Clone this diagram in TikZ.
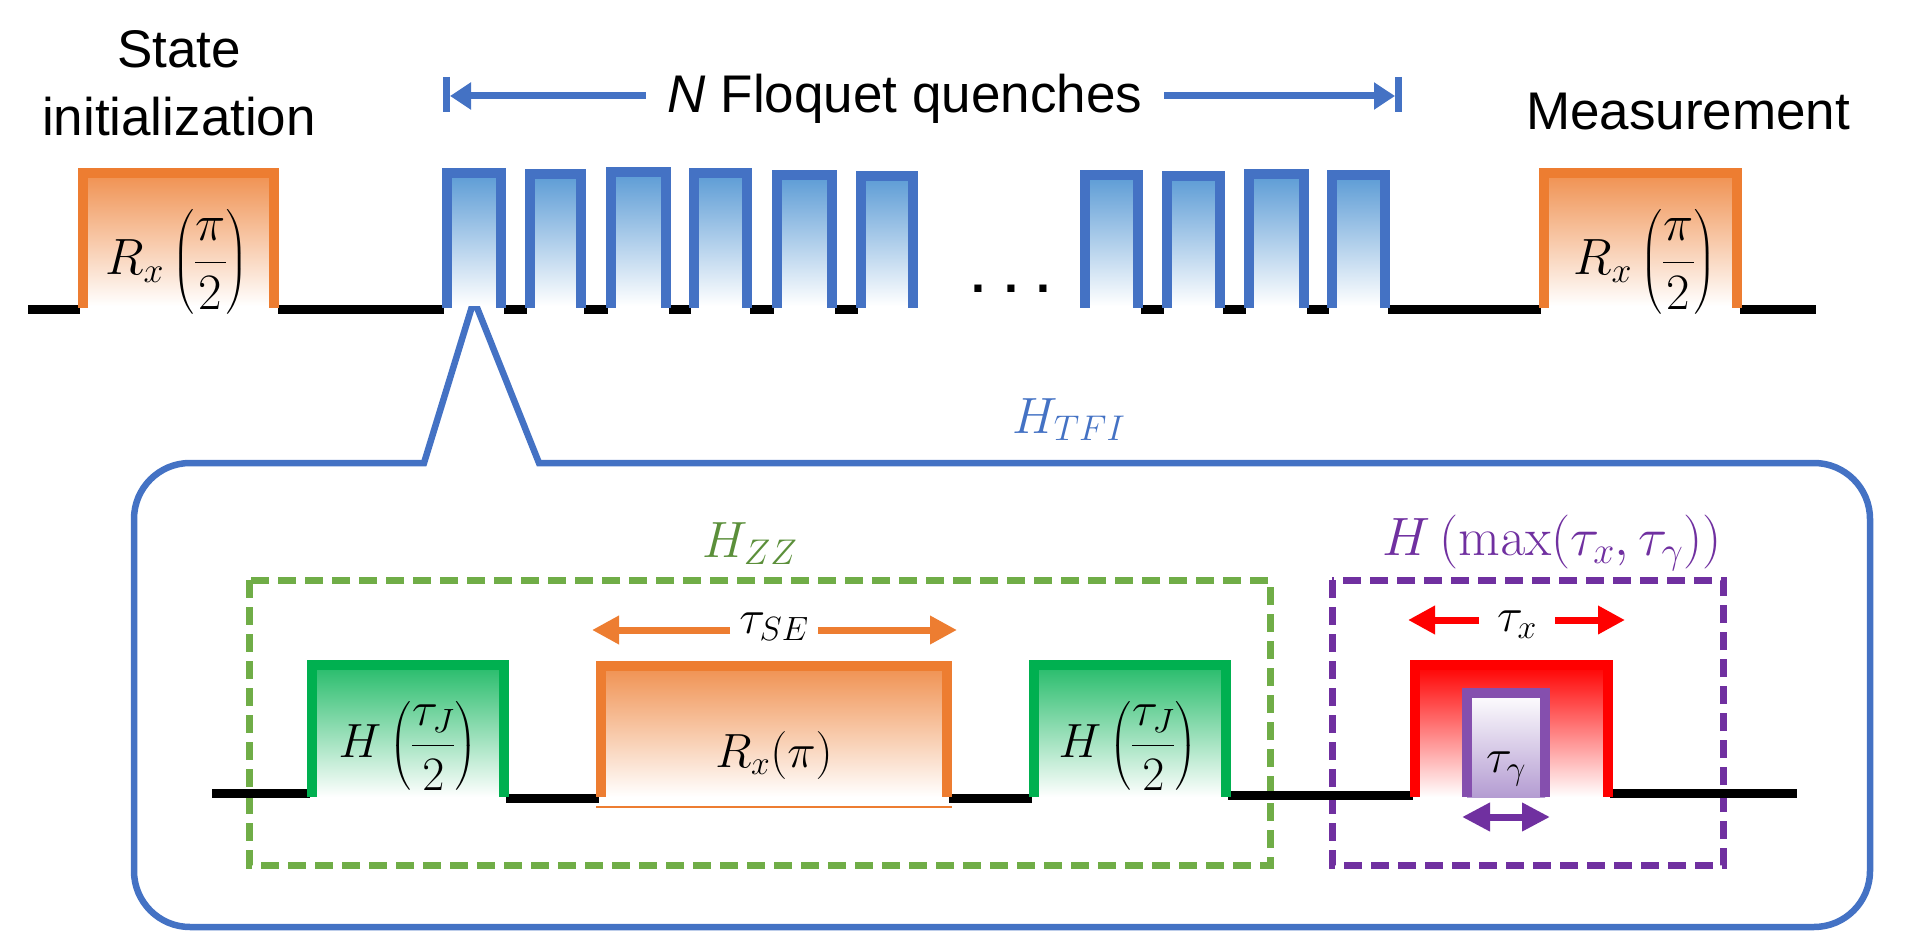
\RequirePackage{fix-cm}
\documentclass[tikz,border=0pt]{standalone}
\usepackage{amsmath}
\usepackage[no-math]{fontspec}
\setmainfont{Liberation Sans}
\usepackage{xcolor}
\definecolor{pulseb}{HTML}{4472C4}
\definecolor{pulsebf}{HTML}{5B9BD5}
\definecolor{rotc}{HTML}{ED7D31}
\definecolor{zzc}{HTML}{00B050}
\definecolor{zzbox}{HTML}{70AD47}
\definecolor{zzlab}{HTML}{5B8F3A}
\definecolor{maxc}{HTML}{7030A0}
\definecolor{maxf}{HTML}{B49CD2}
\definecolor{xc}{HTML}{FF0000}
\usetikzlibrary{arrows.meta}

\begin{document}
\begin{tikzpicture}[x=1pt,y=-1pt,every node/.style={inner sep=0pt}]
\tikzstyle{txt}=[font=\fontsize{53}{68}\selectfont,align=center]
\tikzstyle{mth}=[font=\fontsize{48}{58}\selectfont]
\tikzstyle{mbig}=[font=\fontsize{51}{60}\selectfont]
\tikzstyle{rail}=[line width=9pt,black]
\tikzstyle{wall}=[line width=10pt]
\tikzstyle{dashframe}=[line width=7pt,dash pattern=on 18pt off 9pt]
\tikzstyle{dimarrow}=[line width=7pt,-{Triangle[length=27pt,width=27pt]}]
\tikzstyle{fqarrow}=[line width=7pt,pulseb,-{Triangle[length=21pt,width=26pt]}]
\useasboundingbox (0,0) rectangle (1909,941);

% zoom callout
\draw[pulseb,line width=6.5pt]
  (539,463) -- (1814,463) arc[start angle=-90,end angle=0,radius=56]
  -- (1870,871) arc[start angle=0,end angle=90,radius=56]
  -- (190,927) arc[start angle=90,end angle=180,radius=56]
  -- (134,519) arc[start angle=180,end angle=270,radius=56]
  -- (424,463) -- (474,300) -- cycle;

% dashed frames
\draw[dashframe,zzbox] (249,580) rectangle (1270,865);
\draw[dashframe,maxc] (1332,580) rectangle (1723,865);

% baselines
\foreach \a/\b in {28/80,278/444,504/527,584/608,669/691,750/774,835/858,1141/1164,1223/1246,1307/1329,1388/1541,1740/1816}
  \draw[rail] (\a,310) -- (\b,310);
\foreach \a/\b/\y in {212/310/793,506/599/798,949/1032/798,1228/1413/795,1610/1797/793}
  \draw[rail] (\a,\y) -- (\b,\y);

% top sequence
\foreach \l/\r/\t/\c/\f in {78/279/168/rotc/rotc!85,
  442/506/168/pulseb/pulsebf,525/586/169/pulseb/pulsebf,606/671/167/pulseb/pulsebf,
  689/752/168/pulseb/pulsebf,772/837/170/pulseb/pulsebf,856/918/171/pulseb/pulsebf,
  1080/1143/170/pulseb/pulsebf,1162/1225/171/pulseb/pulsebf,1244/1309/169/pulseb/pulsebf,
  1327/1390/170/pulseb/pulsebf,1539/1742/168/rotc/rotc!85}{
  \shade[top color=\f,bottom color=white] (\l+5,\t+5) rectangle (\r-5,306);
  \draw[wall,\c] (\l+5,308) -- (\l+5,\t+5) -- (\r-5,\t+5) -- (\r-5,308);
}

% one Floquet period
\foreach \l/\r/\t/\c/\f in {307/509/660/zzc/zzc!85,596/952/661/rotc/rotc!85,
  1029/1231/660/zzc/zzc!85,1410/1613/660/xc/xc}{
  \shade[top color=\f,bottom color=white] (\l+5,\t+5) rectangle (\r-5,797);
  \draw[wall,\c] (\l+5,797) -- (\l+5,\t+5) -- (\r-5,\t+5) -- (\r-5,797);
}
\draw[rotc,line width=1.2pt] (596,807) -- (952,807);
\shade[top color=white,bottom color=maxf] (1467,693) rectangle (1545,797);
\draw[wall,maxc!85] (1467,797) -- (1467,693) -- (1545,693) -- (1545,797);

% labels
\node[txt] (init) at (179,83) {State\\initialization};
\node[txt,anchor=base] (meas) at (1688,130) {Measurement};
\node[txt,anchor=base,inner xsep=22pt] (floq) at (905,113) {\textit{N} Floquet quenches};
\node[font=\fontsize{50}{60}\selectfont\bfseries,anchor=base] (dots) at (1011,293) {. . .};
\node[mbig] (rxin) at (177,262) {$R_x\left(\dfrac{\pi}{2}\right)$};
\node[mbig] (rxout) at (1645,262) {$R_x\left(\dfrac{\pi}{2}\right)$};
\node[mbig,anchor=base,text=pulseb] (htfi) at (1069,433) {$H_{TFI}$};
\node[mbig,anchor=base,text=zzlab] (hzz) at (750,557) {$H_{ZZ}$};
\node[mbig,anchor=base,text=maxc,font=\fontsize{54}{62}\selectfont] (hmax) at (1552,555) {$H\,(\max(\tau_x,\tau_\gamma))$};
\node[mth] (hj1) at (408,746) {$H\left(\dfrac{\tau_J}{2}\right)$};
\node[mth,anchor=base] (rxpi) at (774,767) {$R_x(\pi)$};
\node[mth] (hj2) at (1128,746) {$H\left(\dfrac{\tau_J}{2}\right)$};
\node[mth,anchor=base,inner xsep=9pt] (tse) at (774,633) {$\tau_{SE}$};
\node[mth,anchor=base,inner xsep=18pt] (tx) at (1517,631) {$\tau_x$};
\node[mth,anchor=base] (tg) at (1506,772) {$\tau_\gamma$};

% arrows
\coordinate (fql) at (450,96);
\coordinate (fqr) at (1395,96);
\draw[fqarrow] (floq.west |- fql) -- (fql);
\draw[fqarrow] (floq.east |- fqr) -- (fqr);
\draw[pulseb,line width=7pt] (fql) ++(-3.5,-19) -- ++(0,35);
\draw[pulseb,line width=7pt] (fqr) ++(3.5,-19) -- ++(0,35);
\coordinate (tsel) at (592,630);
\coordinate (tser) at (957,630);
\draw[dimarrow,rotc] (tse.west |- tsel) -- (tsel);
\draw[dimarrow,rotc] (tse.east |- tser) -- (tser);
\coordinate (txl) at (1408,620);
\coordinate (txr) at (1625,620);
\draw[dimarrow,xc] (tx.west |- txl) -- (txl);
\draw[dimarrow,xc] (tx.east |- txr) -- (txr);
\coordinate (tgl) at (1462,817);
\coordinate (tgr) at (1550,817);
\draw[line width=7pt,maxc,{Triangle[length=28pt,width=27pt]}-{Triangle[length=28pt,width=27pt]}] (tgl) -- (tgr);
\end{tikzpicture}
\end{document}
